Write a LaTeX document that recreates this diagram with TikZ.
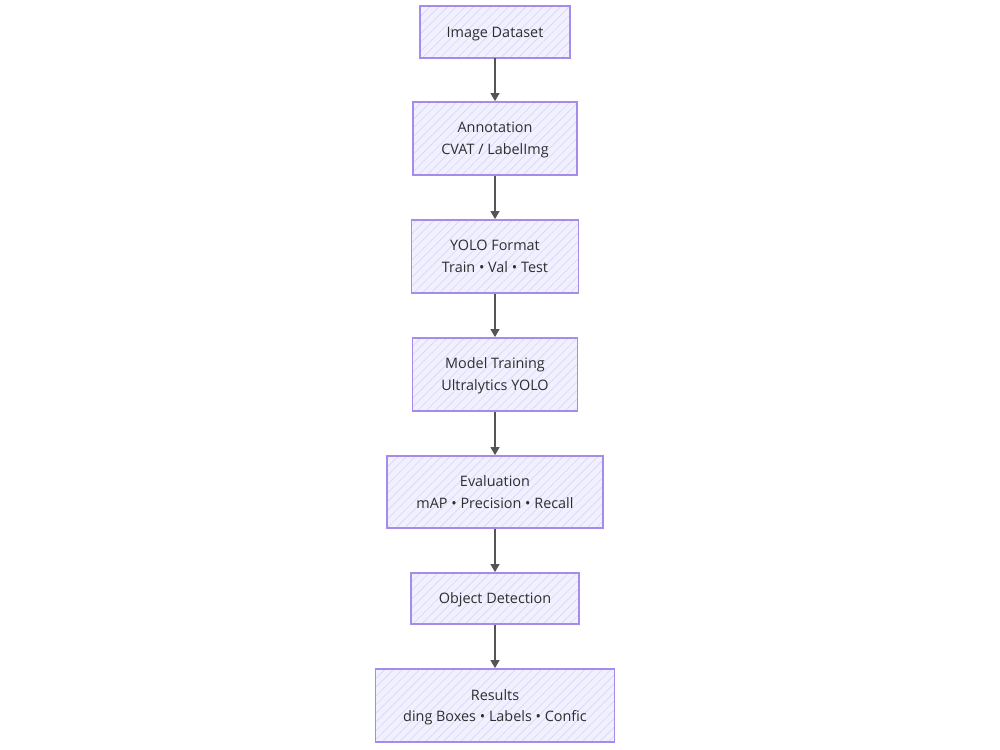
\documentclass[tikz,border=0pt]{standalone}
\usepackage{fontspec}
\setmainfont{Open Sans}
\usetikzlibrary{arrows.meta,patterns.meta}
\definecolor{boxfill}{HTML}{F1F0FE}
\definecolor{hatch}{HTML}{D9D5F6}
\definecolor{boxline}{HTML}{A58CEB}
\definecolor{txt}{HTML}{2E2E2E}
\definecolor{arr}{HTML}{555555}
\tikzset{
  flowbox/.style={draw=boxline, line width=1pt, preaction={fill=boxfill},
    pattern={Lines[angle=45,distance=3.5pt,line width=0.35pt]}, pattern color=hatch,
    text=txt, align=center, inner sep=0pt, text depth=0pt,
    font=\fontsize{8.2}{12.5}\selectfont},
  flow/.style={draw=arr, line width=0.7pt, -{Triangle[length=4.5pt,width=5pt]}}
}
\begin{document}
\begin{tikzpicture}[x=0.02cm,y=-0.02cm]
\useasboundingbox (0,0) rectangle (1000,750);
\node[flowbox, minimum width=150*0.02cm, minimum height=52*0.02cm] (a) at (495,32) {Image Dataset};
\node[flowbox, minimum width=164*0.02cm, minimum height=73*0.02cm] (b) at (495,138.5) {Annotation\\CVAT / LabelImg};
\node[flowbox, minimum width=167*0.02cm, minimum height=73*0.02cm] (c) at (495,256.5) {YOLO Format\\Train • Val • Test};
\node[flowbox, minimum width=165*0.02cm, minimum height=73*0.02cm] (d) at (495,374.5) {Model Training\\Ultralytics YOLO};
\node[flowbox, minimum width=216*0.02cm, minimum height=72*0.02cm] (e) at (495,492) {Evaluation\\mAP • Precision • Recall};
\node[flowbox, minimum width=168*0.02cm, minimum height=51*0.02cm] (f) at (495,598.5) {Object Detection};
\node[flowbox, minimum width=239*0.02cm, minimum height=73*0.02cm] (g) at (495,705.5) {Results\\ding Boxes • Labels • Confic};
\draw[flow] (a) -- (b);
\draw[flow] (b) -- (c);
\draw[flow] (c) -- (d);
\draw[flow] (d) -- (e);
\draw[flow] (e) -- (f);
\draw[flow] (f) -- (g);
\end{tikzpicture}
\end{document}
